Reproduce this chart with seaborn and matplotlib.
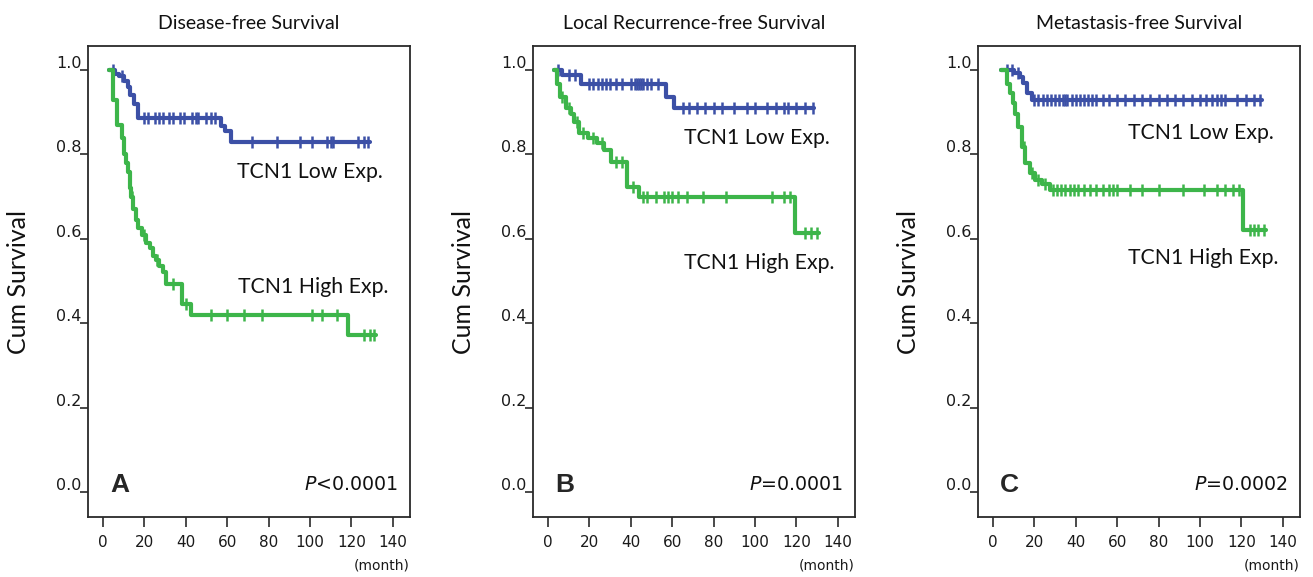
import numpy as np
import pandas as pd
import matplotlib
matplotlib.use('Agg')
import matplotlib.pyplot as plt
import matplotlib.transforms as mtransforms
import seaborn as sns

# ─────────────────────────────────────────
# DATA
# ─────────────────────────────────────────
titles = ['Disease-free Survival', 'Local Recurrence-free Survival', 'Metastasis-free Survival']
panel_letters = ['A', 'B', 'C']
p_values = ['<0.0001', '=0.0001', '=0.0002']

# A - low expression
a_low_t = [3, 6, 8, 10, 12, 13, 15, 17, 57, 59, 62]
a_low_s = [1.0, 0.99, 0.985, 0.975, 0.96, 0.94, 0.92, 0.887, 0.868, 0.855, 0.83]
a_low_end = 129
a_low_cens = [5, 9, 20, 22, 25, 27, 29, 32, 34, 37, 39, 43, 45, 46, 50, 52, 54,
              72, 84, 95, 101, 108, 110, 111, 123, 126, 128]
# A - high expression
a_high_t = [3, 5, 7, 9, 10, 11, 12, 13, 13.5, 14.5, 16, 17, 19, 21, 22.5, 24,
            25.5, 27, 29, 30.5, 38, 42.5, 118.5]
a_high_s = [1.0, 0.93, 0.87, 0.84, 0.80, 0.78, 0.758, 0.72, 0.70, 0.67, 0.645,
            0.625, 0.61, 0.59, 0.578, 0.56, 0.55, 0.535, 0.522, 0.494, 0.446,
            0.42, 0.372]
a_high_end = 132
a_high_cens = [14, 20, 26, 34, 40, 52, 60, 68, 77, 101, 106, 113, 126, 129, 131]

# B - low expression
b_low_t = [3, 7, 16, 57, 61]
b_low_s = [1.0, 0.988, 0.966, 0.937, 0.91]
b_low_end = 128.5
b_low_cens = [5, 10, 13, 20, 22, 24, 26, 28, 30, 33, 36, 40, 42, 43, 44, 45, 46,
              48, 50, 53, 65, 68, 72, 76, 80, 84, 90, 96, 100, 106, 110, 114,
              116, 120, 124, 128]
# B - high expression
b_high_t = [3, 4.5, 6, 8.5, 11, 12.5, 15, 19.5, 23.5, 27, 30.3, 38.3, 44, 119.5]
b_high_s = [1.0, 0.968, 0.937, 0.909, 0.897, 0.877, 0.85, 0.838, 0.826, 0.81,
            0.783, 0.724, 0.70, 0.613]
b_high_end = 131
b_high_cens = [7, 10, 14, 17, 22, 26, 33, 36, 41, 46, 48, 52, 56, 58, 60, 63, 67,
               75, 86, 108, 114, 117, 124, 127, 130]

# C - low expression
c_low_t = [4, 10, 13, 14.6, 16.3, 18.7]
c_low_s = [1.0, 0.992, 0.984, 0.97, 0.945, 0.929]
c_low_end = 130
c_low_cens = [7, 9, 12, 20, 22, 24, 26, 28, 30, 32, 34, 35, 36, 38, 40, 42, 44,
              46, 48, 50, 53, 56, 60, 64, 68, 72, 76, 80, 84, 88, 92, 96, 100,
              103, 106, 108, 110, 112, 118, 122, 126, 129]
# C - high expression
c_high_t = [4, 6.6, 8.2, 9.8, 10.6, 12.2, 13.9, 15.5, 17.9, 20.3, 23.5, 27.5, 121]
c_high_s = [1.0, 0.968, 0.945, 0.921, 0.897, 0.866, 0.818, 0.779, 0.755, 0.739,
            0.731, 0.716, 0.621]
c_high_end = 132
c_high_cens = [15, 19, 22, 25, 29, 31, 33, 35, 37, 39, 41, 44, 47, 50, 53, 56,
               58, 60, 66, 72, 80, 92, 102, 108, 112, 116, 119, 124, 126, 128, 131]

panels = [
    [(a_low_t, a_low_s, a_low_end, a_low_cens), (a_high_t, a_high_s, a_high_end, a_high_cens)],
    [(b_low_t, b_low_s, b_low_end, b_low_cens), (b_high_t, b_high_s, b_high_end, b_high_cens)],
    [(c_low_t, c_low_s, c_low_end, c_low_cens), (c_high_t, c_high_s, c_high_end, c_high_cens)],
]

BLUE = '#3C50A6'
GREEN = '#3DB54A'
FRAME = '#2a2a2a'
TXT = '#111111'

# label positions (axes fraction) for the group names
low_pos = [(0.463, 0.732), (0.469, 0.805), (0.466, 0.815)]
high_pos = [(0.466, 0.488), (0.469, 0.539), (0.466, 0.550)]


def km_frame(times, surv, end):
    t = list(times) + [end]
    s = list(surv) + [surv[-1]]
    return pd.DataFrame({'t': t, 's': s})


def censor_frame(times, surv, cens):
    idx = np.searchsorted(times, cens, side='right') - 1
    return pd.DataFrame({'t': cens, 's': np.asarray(surv)[idx]})


sns.set_style('white')
plt.rcParams['font.family'] = ['DejaVu Sans']
plt.rcParams['mathtext.fontset'] = 'dejavusans'

fig = plt.figure(figsize=(13.13, 5.77), dpi=100)
lefts = [88, 533, 978]
for i, left in enumerate(lefts):
    ax = fig.add_axes([left / 1313, 60 / 577, 322 / 1313, 471 / 577])

    for (times, surv, end, cens), color in zip(panels[i], [BLUE, GREEN]):
        sns.lineplot(data=km_frame(times, surv, end), x='t', y='s', ax=ax,
                     color=color, lw=3, drawstyle='steps-post',
                     estimator=None, sort=False)
        cf = censor_frame(times, surv, cens)
        ax.plot(cf['t'], cf['s'], ls='none', marker='|', ms=8, mew=1.8, color=color)

    ax.set_xlim(-7.2, 148.3)
    ax.set_ylim(-0.059, 1.057)
    ax.set_xticks(range(0, 141, 20))
    ax.set_yticks(np.arange(0, 1.01, 0.2))
    ax.set_yticklabels([f'{v:.1f}' for v in np.arange(0, 1.01, 0.2)])
    ax.set_xlabel('')
    ax.set_ylabel('Cum Survival', fontsize=18, family='Lato', color=TXT)
    ax.yaxis.set_label_coords(-0.18, 0.5)

    for sp in ax.spines.values():
        sp.set_visible(True)
        sp.set_color(FRAME)
        sp.set_linewidth(1.3)
    ax.tick_params(axis='x', direction='out', length=7, width=1.2, color=FRAME,
                   labelsize=11, pad=6, labelcolor='#1a1a1a', bottom=True)
    ax.tick_params(axis='y', direction='out', length=6, width=1.2, color=FRAME,
                   labelsize=11.5, pad=-1.5, labelcolor='#1a1a1a', left=True)
    offset = mtransforms.ScaledTranslation(0, 8 / 100, fig.dpi_scale_trans)
    for lab in ax.get_yticklabels():
        lab.set_transform(lab.get_transform() + offset)

    ax.set_title(titles[i], fontsize=14, family='Lato', pad=12, color=TXT)

    ax.text(*low_pos[i], 'TCN1 Low Exp.', transform=ax.transAxes, fontsize=15.3,
            family='Lato', va='center', ha='left', color=TXT)
    ax.text(*high_pos[i], 'TCN1 High Exp.', transform=ax.transAxes, fontsize=15.3,
            family='Lato', va='center', ha='left', color=TXT)
    ax.text(0.068, 0.068, panel_letters[i], transform=ax.transAxes, fontsize=19,
            family='Liberation Sans', fontweight='bold', va='center', ha='left')
    ax.text(0.963, 0.068, r'$\mathit{P}$' + p_values[i], transform=ax.transAxes,
            fontsize=13.7, va='center', ha='right', color=TXT)
    ax.text(1.0, -0.104, '(month)', transform=ax.transAxes, fontsize=10,
            va='center', ha='right', color='#1a1a1a')

plt.savefig('out.png', dpi=100)
plt.close()
